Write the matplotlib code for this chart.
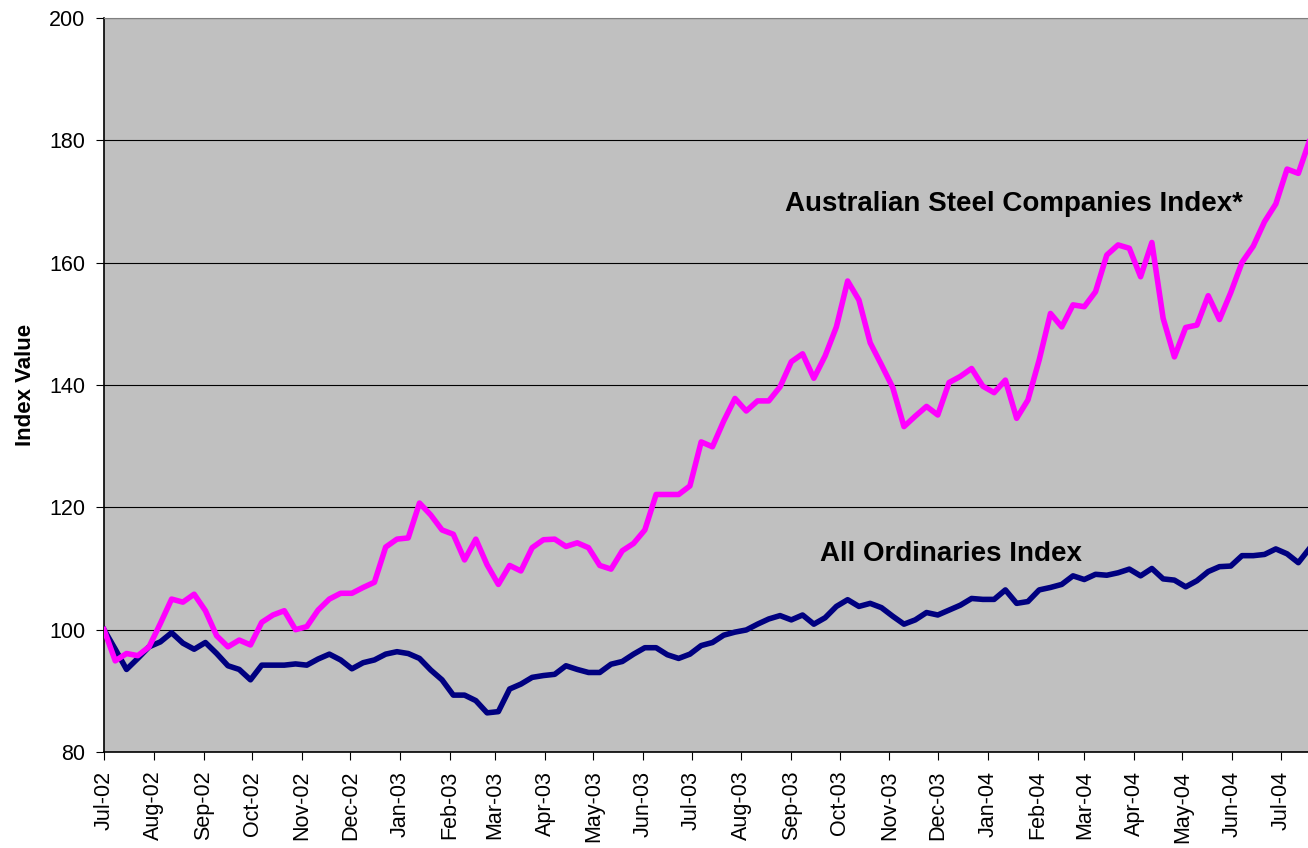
import matplotlib
matplotlib.use('Agg')
import matplotlib.pyplot as plt
import matplotlib.dates as mdates
import pandas as pd

plt.rcParams['font.family'] = ['Liberation Sans', 'DejaVu Sans']

# weekly observations, first one on 1 July 2002
start_date = '2002-07-01'
n_weeks = 108

steel_index = [
    100.0, 94.9, 96.1, 95.75, 97.2, 101.0, 105.0, 104.5, 105.8, 103.1,
    99.0, 97.2, 98.3, 97.5, 101.2, 102.4, 103.1, 100.0, 100.5, 103.2,
    105.0, 105.95, 105.95, 106.9, 107.75, 113.5, 114.8, 115.0, 120.7, 118.75,
    116.3, 115.6, 111.4, 114.8, 110.6, 107.4, 110.5, 109.6, 113.4, 114.7,
    114.8, 113.6, 114.2, 113.4, 110.5, 109.9, 112.9, 114.1, 116.3, 122.1,
    122.1, 122.1, 123.5, 130.7, 129.9, 134.1, 137.8, 135.75, 137.4, 137.4,
    139.7, 143.8, 145.1, 141.1, 144.75, 149.5, 157.0, 153.9, 146.9, 143.3,
    139.6, 133.2, 134.9, 136.5, 135.1, 140.4, 141.4, 142.7, 139.8, 138.75,
    140.8, 134.55, 137.55, 144.1, 151.7, 149.5, 153.1, 152.8, 155.25, 161.25,
    162.9, 162.35, 157.7, 163.3, 150.9, 144.6, 149.4, 149.8, 154.6, 150.7,
    155.1, 160.05, 162.7, 166.7, 169.6, 175.3, 174.6, 180.0,
]

all_ords = [
    100.0, 96.8, 93.5, 95.3, 97.2, 98.0, 99.5, 97.8, 96.8, 97.9,
    96.1, 94.1, 93.5, 91.8, 94.2, 94.2, 94.2, 94.4, 94.2, 95.2,
    96.0, 95.05, 93.6, 94.6, 95.05, 96.0, 96.4, 96.1, 95.3, 93.4,
    91.8, 89.3, 89.3, 88.4, 86.4, 86.6, 90.3, 91.1, 92.2, 92.5,
    92.7, 94.1, 93.5, 93.0, 93.0, 94.35, 94.8, 96.0, 97.05, 97.05,
    95.9, 95.3, 96.0, 97.4, 97.9, 99.1, 99.6, 99.95, 100.9, 101.75,
    102.3, 101.6, 102.4, 100.9, 101.95, 103.8, 104.9, 103.8, 104.3, 103.6,
    102.2, 100.9, 101.6, 102.8, 102.4, 103.2, 104.0, 105.1, 104.95, 104.95,
    106.5, 104.3, 104.6, 106.5, 106.9, 107.4, 108.8, 108.2, 109.05, 108.9,
    109.3, 109.9, 108.8, 110.0, 108.3, 108.1, 107.0, 108.0, 109.5, 110.3,
    110.4, 112.1, 112.1, 112.3, 113.2, 112.4, 110.95, 113.3,
]

dates = pd.date_range(start_date, periods=n_weeks, freq='7D')

fig = plt.figure(figsize=(13.08, 8.48), dpi=100)
ax = fig.add_axes([104 / 1308, 1 - 752 / 848, 1204 / 1308, 734 / 848])
ax.set_facecolor('#C0C0C0')

# All Ords drawn first so the steel line sits on top
ax.plot(dates, all_ords, color='#000080', linewidth=4.0, solid_joinstyle='round', zorder=3)
ax.plot(dates, steel_index, color='#FF00FF', linewidth=4.0, solid_joinstyle='round', zorder=4)

ax.set_ylim(80, 200)
ax.set_yticks(range(80, 201, 20))
ax.set_xlim(pd.Timestamp(start_date), pd.Timestamp(start_date) + pd.Timedelta(days=748))
ax.xaxis.set_major_locator(mdates.MonthLocator())
ax.xaxis.set_major_formatter(mdates.DateFormatter('%b-%y'))
ax.grid(axis='y', color='black', linewidth=0.8)
ax.set_axisbelow(True)

ax.tick_params(axis='y', labelsize=15.5, length=5.5, pad=8, direction='out')
ax.tick_params(axis='x', labelsize=15.5, length=5.5, pad=8, direction='out', labelrotation=90)

for side in ['left', 'bottom']:
    ax.spines[side].set_color('black')
    ax.spines[side].set_linewidth(1.2)
ax.spines['top'].set_color('#808080')
ax.spines['right'].set_visible(False)

ax.set_ylabel('Index Value', fontsize=16, fontweight='bold', labelpad=9)

ax.text(0.5656, 0.737, 'Australian Steel Companies Index*', transform=ax.transAxes,
        fontsize=20, fontweight='bold', va='baseline', ha='left')
ax.text(0.5947, 0.2606, 'All Ordinaries Index', transform=ax.transAxes,
        fontsize=20, fontweight='bold', va='baseline', ha='left')

plt.savefig('out.png', dpi=100)
